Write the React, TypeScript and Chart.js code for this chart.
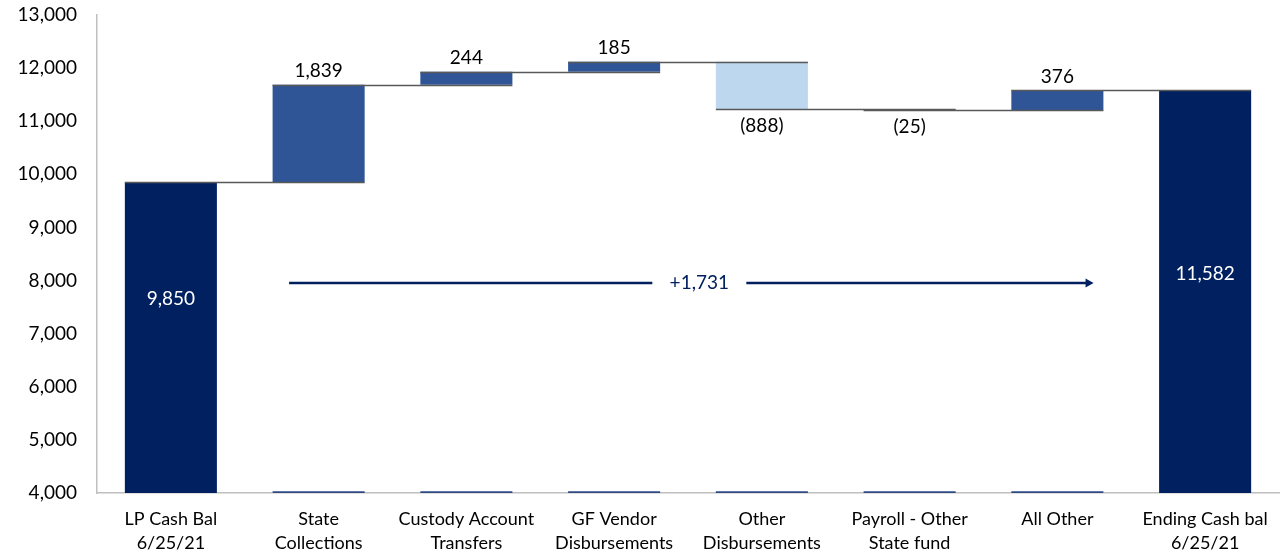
import { useEffect, useRef } from "react";
import { Chart, registerables } from "chart.js";

Chart.register(...registerables);

const categories: string[][] = [
  ["LP Cash Bal", "6/25/21"],
  ["State", "Collections"],
  ["Custody Account", "Transfers"],
  ["GF Vendor", "Disbursements"],
  ["Other", "Disbursements"],
  ["Payroll - Other", "State fund"],
  ["All Other"],
  ["Ending Cash bal", "6/25/21"],
];
const startBalance = 9850;
const changes = [1839, 244, 185, -888, -25, 376];
const endBalance = 11582;
const netChange = 1731;
const axisMin = 4000;
const axisMax = 13000;
const axisStep = 1000;
const totalLabelAt = [7650, 8130];
const arrowLevel = 7950;

const totalColor = "#002060";
const upColor = "#2F5597";
const downColor = "#BDD7EE";
const stubColor = "#2F4A85";
const FONT = "Lato";

const fmt = (v: number) => Math.abs(v).toLocaleString("en-US");

export default function App() {
  const ref = useRef<HTMLCanvasElement | null>(null);

  useEffect(() => {
    if (!ref.current) return;

    const floats: [number, number][] = [[axisMin, startBalance]];
    const levels: number[] = [startBalance];
    let run = startBalance;
    for (const c of changes) {
      floats.push([run, run + c]);
      run += c;
      levels.push(run);
    }
    floats.push([axisMin, endBalance]);
    levels.push(endBalance);

    const colors = [
      totalColor,
      ...changes.map((c) => (c >= 0 ? upColor : downColor)),
      totalColor,
    ];
    const stubs = [null, ...changes.map(() => [axisMin, axisMin + 35]), null];

    const overlay = {
      id: "overlay",
      afterDatasetsDraw(chart: any) {
        const ctx = chart.ctx;
        const meta = chart.getDatasetMeta(0);
        const els = meta.data;
        const yS = chart.scales.y;
        const xS = chart.scales.x;
        ctx.save();
        // connectors
        ctx.strokeStyle = "#595959";
        ctx.lineWidth = 1.3;
        for (let i = 0; i < els.length - 1; i++) {
          const a = els[i];
          const b = els[i + 1];
          const y = Math.round(yS.getPixelForValue(levels[i])) + 0.5;
          ctx.beginPath();
          ctx.moveTo(a.x - a.width / 2, y);
          ctx.lineTo(b.x + b.width / 2, y);
          ctx.stroke();
        }
        // change labels
        ctx.font = `19px ${FONT}`;
        ctx.fillStyle = "#000";
        ctx.textAlign = "center";
        changes.forEach((c, k) => {
          const el = els[k + 1];
          const p0 = yS.getPixelForValue(floats[k + 1][0]);
          const p1 = yS.getPixelForValue(floats[k + 1][1]);
          const top = Math.min(p0, p1);
          const bot = Math.max(p0, p1);
          if (c >= 0) {
            ctx.textBaseline = "bottom";
            ctx.fillText(fmt(c), el.x, top - 4);
          } else {
            ctx.textBaseline = "top";
            ctx.fillText(`(${fmt(c)})`, el.x, bot + 7);
          }
        });
        // totals
        ctx.fillStyle = "#fff";
        ctx.textBaseline = "middle";
        const totals = [startBalance, endBalance];
        [0, els.length - 1].forEach((idx, k) => {
          ctx.fillText(fmt(totals[k]), els[idx].x, yS.getPixelForValue(totalLabelAt[k]));
        });
        // arrow
        const step = xS.getPixelForValue(2) - xS.getPixelForValue(1);
        const ay = Math.round(yS.getPixelForValue(arrowLevel));
        const x0 = xS.getPixelForValue(1) - 0.2 * step;
        const x1 = xS.getPixelForValue(6) + 0.245 * step;
        const mid = (x0 + x1) / 2 + 8;
        ctx.strokeStyle = totalColor;
        ctx.fillStyle = totalColor;
        ctx.lineWidth = 2.5;
        ctx.beginPath();
        ctx.moveTo(x0, ay);
        ctx.lineTo(mid - 47, ay);
        ctx.moveTo(mid + 47, ay);
        ctx.lineTo(x1 - 7, ay);
        ctx.stroke();
        ctx.beginPath();
        ctx.moveTo(x1, ay);
        ctx.lineTo(x1 - 8, ay - 4.5);
        ctx.lineTo(x1 - 8, ay + 4.5);
        ctx.closePath();
        ctx.fill();
        ctx.font = `19px ${FONT}`;
        ctx.textBaseline = "middle";
        ctx.fillText(`+${fmt(netChange)}`, mid, ay);
        ctx.restore();
      },
    };

    const chart = new Chart(ref.current, {
      type: "bar",
      data: {
        labels: categories,
        datasets: [
          {
            data: floats as any,
            backgroundColor: colors,
            borderWidth: 0,
            categoryPercentage: 1,
            barPercentage: 0.623,
            grouped: false,
            order: 1,
          },
          {
            data: stubs as any,
            backgroundColor: stubColor,
            borderWidth: 0,
            categoryPercentage: 1,
            barPercentage: 0.623,
            grouped: false,
            order: 0,
          },
        ],
      },
      options: {
        animation: false,
        responsive: false,
        maintainAspectRatio: false,
        layout: { padding: { top: 15, right: 9, left: 0, bottom: 0 } },
        plugins: {
          legend: { display: false },
          tooltip: { enabled: false },
        },
        scales: {
          x: {
            offset: true,
            grid: { display: false, drawTicks: false },
            border: { display: true, color: "#bfbfbf", width: 1.5 },
            ticks: {
              color: "#000",
              font: { family: FONT, size: 18, lineHeight: 1.333 },
              padding: 14,
              maxRotation: 0,
              autoSkip: false,
            },
            afterFit: (s: any) => {
              s.height = 61;
              s.paddingLeft = 0;
              s.paddingRight = 0;
            },
          },
          y: {
            min: axisMin,
            max: axisMax,
            grid: { display: false, drawTicks: false },
            border: { display: true, color: "#bfbfbf", width: 1.5 },
            ticks: {
              stepSize: axisStep,
              color: "#000",
              font: { family: FONT, size: 19 },
              padding: 20,
              callback: (v: any) => Number(v).toLocaleString("en-US"),
            },
            afterFit: (s: any) => {
              s.width = 97;
              s.paddingTop = 0;
              s.paddingBottom = 0;
            },
          },
        },
      },
      plugins: [overlay],
    });
    return () => chart.destroy();
  }, []);

  return (
    <div style={{ position: "absolute", left: 0, top: 0, width: 1288, height: 554, background: "#fff" }}>
      <canvas ref={ref} width={1288} height={554} style={{ display: "block" }} />
    </div>
  );
}
